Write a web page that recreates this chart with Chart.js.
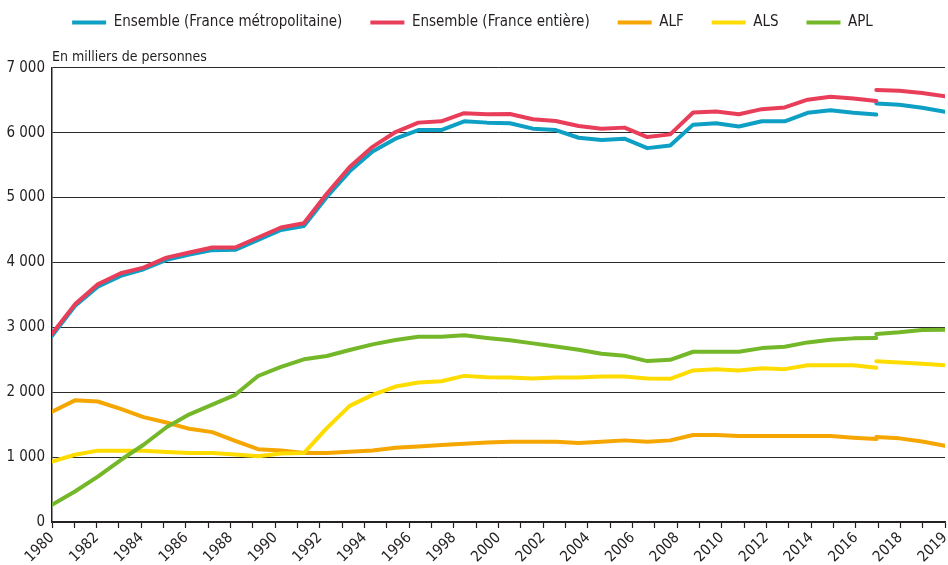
<!DOCTYPE html>
<html lang="fr">
<head>
<meta charset="utf-8">
<title>Bénéficiaires des aides au logement</title>
<script src="https://cdn.jsdelivr.net/npm/chart.js"></script>
<style>
  html, body { margin: 0; padding: 0; background: #fff; }
  #wrap { position: relative; width: 948px; height: 565px; }
</style>
</head>
<body>
<div id="wrap"><canvas id="chart"></canvas></div>
<script>
// positions des points (ancienne série jusqu'à la rupture, puis nouvelle série)
const yearsOld = [1980, 1981, 1982, 1983, 1984, 1985, 1986, 1987, 1988, 1989,
  1990, 1991, 1992, 1993, 1994, 1995, 1996, 1997, 1998, 1999,
  2000, 2001, 2002, 2003, 2004, 2005, 2006, 2007, 2008, 2009,
  2010, 2011, 2012, 2013, 2014, 2015, 2016];
const yearsNew = [2016, 2017, 2018, 2019];

// libellés de l'axe horizontal (une graduation par an)
const tickLabels = ['1980', '', '1982', '', '1984', '', '1986', '', '1988', '', '1990', '', '1992', '',
  '1994', '', '1996', '', '1998', '', '2000', '', '2002', '', '2004', '', '2006', '', '2008', '',
  '2010', '', '2012', '', '2014', '', '2016', '', '2018', '', '2019'];

// en milliers de personnes
const metroOld = [2870, 3330, 3627, 3792, 3895, 4040, 4122, 4190, 4195, 4348,
  4500, 4560, 5010, 5404, 5710, 5907, 6041, 6041, 6176, 6155,
  6145, 6062, 6041, 5922, 5886, 5907, 5762, 5803, 6124, 6145,
  6095, 6176, 6176, 6306, 6347, 6306, 6280];
const metroNew = [6451, 6430, 6383, 6321];

const entiereOld = [2900, 3354, 3663, 3833, 3921, 4075, 4153, 4230, 4230, 4385,
  4539, 4604, 5060, 5472, 5782, 6010, 6155, 6176, 6300, 6285,
  6287, 6207, 6181, 6104, 6062, 6078, 5933, 5974, 6311, 6326,
  6285, 6363, 6389, 6508, 6554, 6528, 6487];
const entiereNew = [6658, 6648, 6611, 6560];

const alfOld = [1700, 1875, 1857, 1744, 1616, 1534, 1436, 1385, 1251, 1123,
  1103, 1062, 1062, 1082, 1103, 1144, 1164, 1185, 1205, 1225,
  1237, 1237, 1237, 1216, 1237, 1258, 1237, 1258, 1340, 1340,
  1325, 1325, 1325, 1325, 1325, 1299, 1278];
const alfNew = [1309, 1289, 1242, 1175];

const alsOld = [930, 1036, 1100, 1100, 1097, 1077, 1062, 1062, 1041, 1015,
  1056, 1062, 1446, 1790, 1960, 2088, 2149, 2170, 2252, 2230,
  2227, 2211, 2227, 2227, 2242, 2242, 2211, 2206, 2335, 2356,
  2335, 2371, 2356, 2417, 2417, 2417, 2376];
const alsNew = [2479, 2459, 2438, 2417];

const aplOld = [265, 470, 700, 955, 1190, 1460, 1660, 1810, 1960, 2250,
  2390, 2507, 2558, 2650, 2738, 2804, 2855, 2855, 2877, 2835,
  2800, 2753, 2706, 2655, 2593, 2562, 2480, 2500, 2624, 2624,
  2624, 2680, 2700, 2768, 2810, 2830, 2835];
const aplNew = [2897, 2923, 2960, 2964];

const FONT = "'Liberation Sans Narrow', 'DejaVu Sans Condensed', 'Arial Narrow', sans-serif";
const TEXT = '#231f20';

// ancienne et nouvelle série dans un même tracé, coupé par un point vide
function withBreak(oldVals, newVals) {
  const pts = yearsOld.map((yr, i) => ({ x: yr, y: oldVals[i] }));
  pts.push({ x: yearsNew[0], y: null });
  yearsNew.forEach((yr, i) => pts.push({ x: yr, y: newVals[i] }));
  return pts;
}

function line(label, color, oldVals, newVals, order) {
  return {
    label: label,
    data: withBreak(oldVals, newVals),
    borderColor: color,
    backgroundColor: color,
    borderWidth: 4,
    borderCapStyle: 'round',
    borderJoinStyle: 'round',
    pointRadius: 0,
    tension: 0,
    spanGaps: false,
    xAxisID: 'xData',
    order: order
  };
}

const ctx = document.getElementById('chart').getContext('2d');
const chart = new Chart(ctx, {
  type: 'line',
  data: {
    labels: tickLabels,
    datasets: [
      line('Ensemble (France métropolitaine)', '#0e9fc4', metroOld, metroNew, 2),
      line('Ensemble (France entière)', '#e83e5a', entiereOld, entiereNew, 1),
      line('ALF', '#f5a600', alfOld, alfNew, 5),
      line('ALS', '#ffdc00', alsOld, alsNew, 4),
      line('APL', '#74b829', aplOld, aplNew, 3)
    ]
  },
  options: {
    responsive: true,
    maintainAspectRatio: false,
    animation: false,
    layout: { padding: { top: -13, right: 3, left: 0, bottom: 0 } },
    plugins: {
      legend: {
        position: 'top',
        align: 'center',
        labels: {
          usePointStyle: true,
          pointStyle: 'line',
          pointStyleWidth: 34,
          padding: 28,
          color: TEXT,
          font: { family: FONT, size: 15 },
          sort: (a, b) => a.datasetIndex - b.datasetIndex
        }
      },
      title: {
        display: true,
        text: 'En milliers de personnes',
        align: 'start',
        position: 'top',
        fullSize: false,
        weight: 100,
        color: TEXT,
        font: { family: FONT, size: 14, weight: 'normal' },
        padding: { top: 9, bottom: 2 }
      },
      tooltip: { enabled: false }
    },
    scales: {
      x: {
        type: 'category',
        position: 'bottom',
        offset: false,
        afterFit: (s) => { s.height = 43; s.paddingLeft = 0; s.paddingRight = 0; },
        grid: {
          display: true,
          drawOnChartArea: false,
          drawTicks: true,
          tickLength: 6,
          tickWidth: 1.2,
          tickColor: '#231f20',
          offset: false
        },
        border: { display: true, color: '#231f20', width: 1.5 },
        ticks: {
          autoSkip: false,
          minRotation: 45,
          maxRotation: 45,
          padding: 1,
          color: TEXT,
          font: { family: FONT, size: 15 }
        }
      },
      xData: {
        type: 'linear',
        display: false,
        min: 1980,
        max: 2019
      },
      y: {
        min: 0,
        max: 7000,
        afterFit: (s) => { s.width = 52; },
        grid: {
          color: '#2a2a2a',
          lineWidth: 1,
          drawTicks: false
        },
        border: { display: true, color: '#231f20', width: 1.5 },
        ticks: {
          stepSize: 1000,
          padding: 7,
          color: TEXT,
          font: { family: FONT, size: 15 },
          callback: (v) => String(v).replace(/\B(?=(\d{3})+(?!\d))/g, ' ')
        }
      }
    }
  }
});
</script>
</body>
</html>
